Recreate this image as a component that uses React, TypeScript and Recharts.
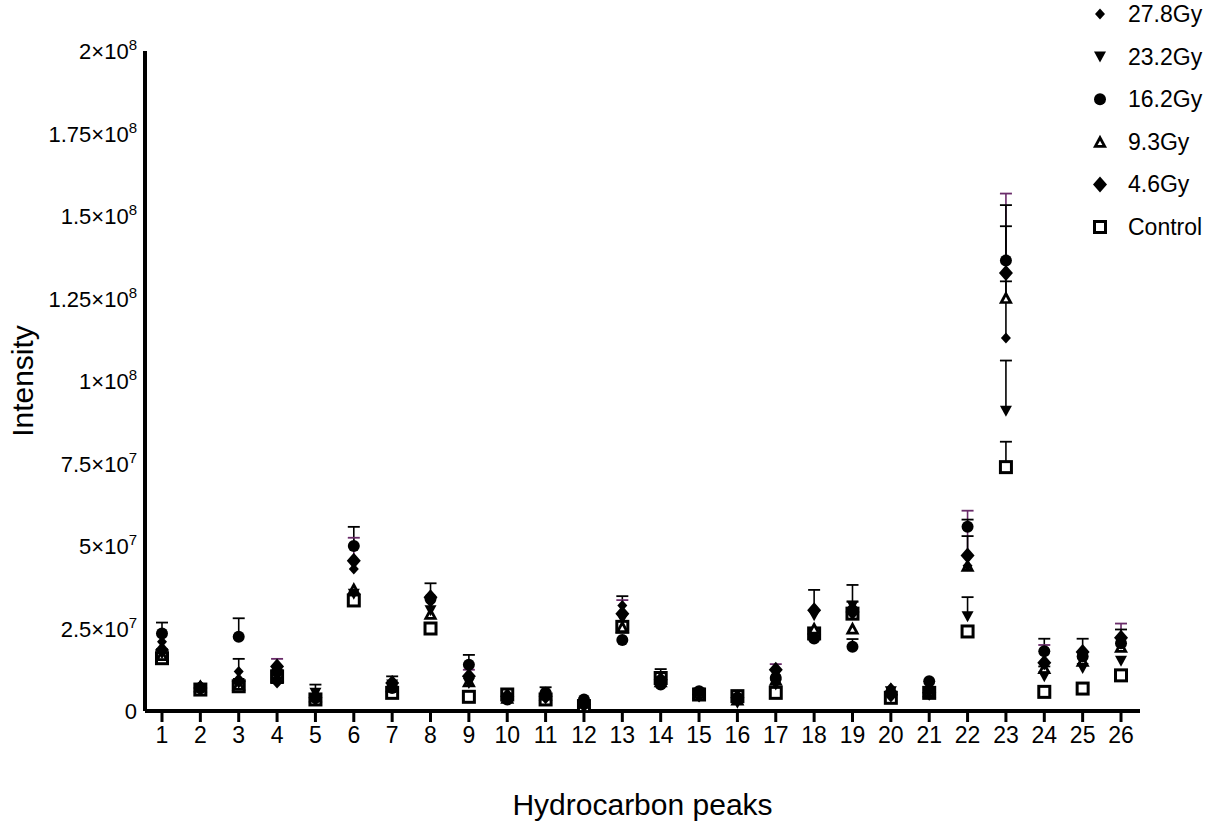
import React from "react";
import { ScatterChart, Scatter, XAxis, YAxis, ErrorBar } from "recharts";

// hydrocarbon peak numbers on the x axis
const peaks = [1, 2, 3, 4, 5, 6, 7, 8, 9, 10, 11, 12, 13, 14, 15, 16, 17, 18, 19, 20, 21, 22, 23, 24, 25, 26];

// mean intensity per peak, in units of 1e6
const gy278 = [21, 7.5, 12, 8.5, 5, 43, 8.5, 33, 10.5, 4.5, 5, 2, 32, 9.5, 6, 4.5, 11, 31, 31.5, 7, 6, 44, 113, 14, 18, 22];
const gy232 = [17.5, 7, 8.5, 9, 5.5, 35.5, 8, 30.5, 8.5, 4, 4.5, 2, 28, 9, 5.5, 2.5, 8, 29, 32, 6, 5.5, 28.7, 91, 10.5, 13, 15.2];
const gy162 = [23.5, 7, 22.5, 12, 4, 50, 7, 34, 14, 3.5, 5.5, 3.5, 21.5, 8, 6, 4, 10, 22, 19.5, 5.5, 9, 55.8, 136.5, 18.1, 16.5, 20.5];
const gy93 = [17, 7.5, 8, 10, 4.5, 37, 7.5, 29.5, 9, 4, 5, 2.5, 25.5, 9, 5.5, 3.5, 9.5, 25, 25, 6.5, 6, 44, 125.2, 13, 15.2, 19.5];
const gy46 = [18.5, 7, 9, 13.5, 4, 45.5, 8.5, 34.5, 10.5, 4.5, 4.5, 2, 29.5, 9.5, 5, 4, 12.5, 30.5, 30, 5, 5.5, 47.1, 132.7, 14.6, 17.9, 22.2];
const control = [16, 6.5, 7.5, 10.5, 3.5, 33.5, 5.5, 25, 4.3, 5, 3.5, 1.5, 25.5, 10, 5, 4.5, 5.5, 23.5, 29.5, 4, 5.5, 24.1, 73.9, 5.8, 6.8, 10.8];

// upper error (SEM) per peak, same units; null where no bar is shown
const err278 = [null, null, 3.8, null, null, null, 2, null, null, null, null, null, 2.8, null, null, null, null, 5.7, 1.6, null, null, 9, 33.9, null, 3.9, 2.7];
const err232 = [null, null, null, null, 2.5, null, null, null, null, null, null, null, null, null, null, null, null, null, 6.2, null, null, 5.8, 15.2, 3, null, null];
const err162 = [3.3, null, 5.6, null, null, 5.8, null, 4.7, 3, null, 1.7, null, null, null, null, null, null, null, 2.3, null, null, 2.2, 16.8, 3.8, null, null];
const err93 = [null, null, null, null, null, null, null, null, null, null, null, null, null, null, null, null, null, null, null, null, null, null, 5, null, null, null];
const err46 = [null, null, null, 2.3, null, 7, null, null, 2, null, null, null, 4.1, null, null, null, 1.7, null, null, null, null, 13.6, 24.1, 5.4, null, 4.3];
const errCtrl = [null, null, null, null, null, null, null, 1, null, null, null, null, null, 2.7, null, null, null, null, null, null, null, null, 7.7, null, null, null];

const yTicks = [0, 25, 50, 75, 100, 125, 150, 175, 200];

const FONT = "'Liberation Sans', Arial, sans-serif";
const PURPLE = "#6a2c6a";

type Pt = { cx?: number; cy?: number };

const SmallDiamond = ({ cx = 0, cy = 0 }: Pt) => (
  <path d={`M${cx} ${cy - 5.5}L${cx + 5} ${cy}L${cx} ${cy + 5.5}L${cx - 5} ${cy}Z`} fill="#000" />
);
const DownTriangle = ({ cx = 0, cy = 0 }: Pt) => (
  <path d={`M${cx - 6} ${cy - 5}L${cx + 6} ${cy - 5}L${cx} ${cy + 6}Z`} fill="#000" />
);
const Dot = ({ cx = 0, cy = 0 }: Pt) => <circle cx={cx} cy={cy} r={6} fill="#000" />;
const UpTriangle = ({ cx = 0, cy = 0 }: Pt) => (
  <g>
    <path d={`M${cx} ${cy - 7}L${cx + 7} ${cy + 6}L${cx - 7} ${cy + 6}Z`} fill="#000" />
    <path d={`M${cx} ${cy - 1}L${cx + 2.4} ${cy + 3.3}L${cx - 2.4} ${cy + 3.3}Z`} fill="#fff" />
  </g>
);
const Diamond = ({ cx = 0, cy = 0 }: Pt) => (
  <path d={`M${cx} ${cy - 8}L${cx + 7} ${cy}L${cx} ${cy + 8}L${cx - 7} ${cy}Z`} fill="#000" />
);
const OpenSquare = ({ cx = 0, cy = 0 }: Pt) => (
  <rect x={cx - 5.5} y={cy - 5.5} width={11} height={11} fill="#fff" stroke="#000" strokeWidth={3} />
);

// mean points with a one-sided (upward) error stem
const toPoints = (vals: number[], errs: (number | null)[]) =>
  peaks.map((p, i) => ({ x: p, y: vals[i], err: errs[i] == null ? undefined : [0, errs[i]] }));

// the cap sits at mean + error
const toCaps = (vals: number[], errs: (number | null)[]) =>
  peaks.flatMap((p, i) => (errs[i] == null ? [] : [{ x: p, y: vals[i] + (errs[i] as number) }]));

// drawn bottom-up: control first, highest dose last
const series = [
  { name: "Control", vals: control, errs: errCtrl, Shape: OpenSquare, errColor: "#000" },
  { name: "4.6Gy", vals: gy46, errs: err46, Shape: Diamond, errColor: PURPLE },
  { name: "9.3Gy", vals: gy93, errs: err93, Shape: UpTriangle, errColor: "#000" },
  { name: "16.2Gy", vals: gy162, errs: err162, Shape: Dot, errColor: "#000" },
  { name: "23.2Gy", vals: gy232, errs: err232, Shape: DownTriangle, errColor: "#000" },
  { name: "27.8Gy", vals: gy278, errs: err278, Shape: SmallDiamond, errColor: "#000" },
];

function YTick({ x, y, payload }: any) {
  const v = payload.value * 1e6;
  if (v === 0) {
    return (
      <text x={x} y={y} dy={8} textAnchor="end" fontSize={22} fontFamily={FONT} fill="#000">
        0
      </text>
    );
  }
  const exp = Math.floor(Math.log10(v) + 1e-9);
  const mant = Number((v / 10 ** exp).toFixed(2));
  return (
    <text x={x} y={y} dy={8} textAnchor="end" fontSize={22} fontFamily={FONT} fill="#000">
      {`${mant}×10`}
      <tspan dy={-9} fontSize={15}>
        {exp}
      </tspan>
    </text>
  );
}

function XTick({ x, y, payload }: any) {
  return (
    <text x={x} y={y} dy={19} textAnchor="middle" fontSize={23} fontFamily={FONT} fill="#000">
      {payload.value}
    </text>
  );
}

const legendRows = [...series].reverse();

export default function App() {
  return (
    <div style={{ position: "absolute", left: 0, top: 0, width: 1215, height: 835, background: "#fff" }}>
      <ScatterChart width={1215} height={835} margin={{ top: 51, right: 75, bottom: 64, left: 0 }}>
        <XAxis
          type="number"
          dataKey="x"
          domain={[0.557, 26.495]}
          ticks={peaks}
          interval={0}
          allowDataOverflow
          height={60}
          axisLine={{ stroke: "#000", strokeWidth: 4 }}
          tickLine={{ stroke: "#000", strokeWidth: 3 }}
          tickSize={11}
          tickMargin={2}
          tick={<XTick />}
          label={{
            value: "Hydrocarbon peaks",
            position: "bottom",
            offset: 23,
            style: { fontSize: 30, fontFamily: FONT, fill: "#000" },
          }}
        />
        <YAxis
          type="number"
          dataKey="y"
          domain={[0, 200]}
          ticks={yTicks}
          allowDataOverflow
          width={145}
          axisLine={{ stroke: "#000", strokeWidth: 4 }}
          tickLine={false}
          tickSize={0}
          tickMargin={8}
          tick={<YTick />}
          label={{
            value: "Intensity",
            angle: -90,
            position: "insideLeft",
            offset: 22,
            style: { fontSize: 30, fontFamily: FONT, fill: "#000", textAnchor: "middle" },
          }}
        />
        {series.map((s) => (
          <Scatter
            key={`${s.name}-caps`}
            name={`${s.name} error`}
            data={toCaps(s.vals, s.errs)}
            shape={(p: any) => (
              <line x1={p.cx - 6} x2={p.cx + 6} y1={p.cy} y2={p.cy} stroke={s.errColor} strokeWidth={1.8} />
            )}
            legendType="none"
            isAnimationActive={false}
          />
        ))}
        {series.map((s) => (
          <Scatter
            key={s.name}
            name={s.name}
            data={toPoints(s.vals, s.errs)}
            shape={(p: any) => <s.Shape cx={p.cx} cy={p.cy} />}
            isAnimationActive={false}
          >
            <ErrorBar dataKey="err" direction="y" width={0} stroke={s.errColor} strokeWidth={1.6} />
          </Scatter>
        ))}
      </ScatterChart>

      {/* legend, top right */}
      <svg width={1215} height={250} style={{ position: "absolute", left: 0, top: 0, pointerEvents: "none" }}>
        {legendRows.map((s, i) => {
          const cy = 14 + i * 42.6;
          return (
            <g key={s.name}>
              <s.Shape cx={1100} cy={cy} />
              <text x={1128} y={cy} dy={8} fontSize={23} fontFamily={FONT} fill="#000">
                {s.name}
              </text>
            </g>
          );
        })}
      </svg>
    </div>
  );
}
